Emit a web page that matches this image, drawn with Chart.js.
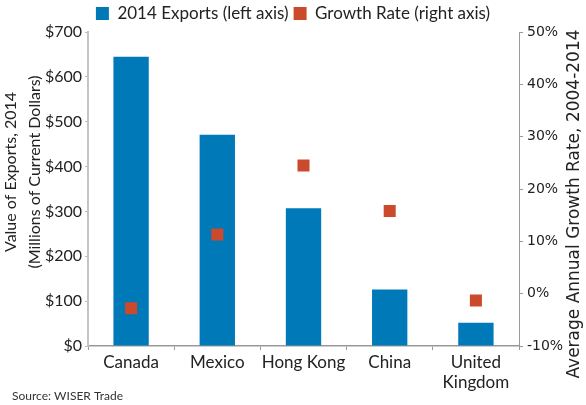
<!DOCTYPE html>
<html>
<head>
<meta charset="utf-8">
<script src="https://cdn.jsdelivr.net/npm/chart.js@4/dist/chart.umd.min.js"></script>
<style>
  html, body { margin: 0; padding: 0; background: #fff; }
  #wrap { width: 586px; height: 405px; position: relative; }
</style>
</head>
<body>
<div id="wrap"><canvas id="exportChart"></canvas></div>
<script>
const countries = ['Canada', 'Mexico', 'Hong Kong', 'China', ['United', 'Kingdom']];
const exports2014 = [645, 471, 307, 126, 52];
const growthRate = [-2.8, 11.3, 24.5, 15.8, -1.3];

const leftTitle = ['Value of Exports, 2014', '(Millions of Current Dollars)'];
const rightTitle = 'Average Annual Growth Rate, 2004-2014';
const sourceNote = 'Source: WISER Trade';

const blue = '#0079b9';
const red = '#cb4a2b';
const textColor = '#222';
const sans = 'Lato';

// axis titles and source line drawn by hand (right title reads bottom-to-top)
const extraText = {
  id: 'extraText',
  afterDraw: (chart) => {
    const { ctx } = chart;
    ctx.save();
    ctx.fillStyle = textColor;
    ctx.textAlign = 'center';
    ctx.textBaseline = 'middle';

    ctx.font = `16px ${sans}`;
    ctx.save();
    ctx.translate(11, 172);
    ctx.rotate(-Math.PI / 2);
    ctx.fillText(leftTitle[0], 0, 0);
    ctx.restore();
    ctx.save();
    ctx.translate(35, 172);
    ctx.rotate(-Math.PI / 2);
    ctx.fillText(leftTitle[1], 0, 0);
    ctx.restore();

    ctx.font = '17px "DejaVu Sans"';
    ctx.save();
    ctx.translate(575, 204);
    ctx.rotate(-Math.PI / 2);
    ctx.fillText(rightTitle, 0, 0);
    ctx.restore();

    ctx.font = `12px ${sans}`;
    ctx.fillStyle = '#333';
    ctx.textAlign = 'left';
    ctx.fillText(sourceNote, 12, 396);
    ctx.restore();
  }
};

new Chart(document.getElementById('exportChart'), {
  data: {
    labels: countries,
    datasets: [
      {
        type: 'bar',
        label: '2014 Exports (left axis)',
        data: exports2014,
        backgroundColor: blue,
        borderWidth: 0,
        yAxisID: 'y',
        categoryPercentage: 1,
        barPercentage: 0.41,
        order: 1
      },
      {
        type: 'line',
        label: 'Growth Rate (right axis)',
        data: growthRate,
        showLine: false,
        pointStyle: 'rect',
        pointRadius: 8.5,
        pointHoverRadius: 8.5,
        backgroundColor: red,
        borderColor: red,
        borderWidth: 0,
        yAxisID: 'y1',
        order: 0
      }
    ]
  },
  options: {
    responsive: true,
    maintainAspectRatio: false,
    animation: false,
    layout: { padding: 0 },
    plugins: {
      tooltip: { enabled: false },
      legend: {
        position: 'top',
        labels: {
          font: { family: sans, size: 17 },
          color: textColor,
          boxWidth: 13,
          boxHeight: 13,
          padding: 5,
          sort: (a, b) => a.datasetIndex - b.datasetIndex
        }
      }
    },
    scales: {
      x: {
        offset: true,
        grid: { display: true, drawOnChartArea: false, offset: true, tickLength: 4, color: '#999' },
        border: { color: '#999', width: 1.5 },
        ticks: { font: { family: sans, size: 17 }, color: textColor, padding: 2, maxRotation: 0, autoSkip: false },
        afterFit: (scale) => { scale.height = 59; }
      },
      y: {
        position: 'left',
        min: 0,
        max: 700,
        grid: { display: true, drawOnChartArea: false, tickLength: 3, color: '#bbb' },
        border: { color: '#c4c4c4', width: 2 },
        ticks: {
          stepSize: 100,
          font: { family: sans, size: 16 },
          color: textColor,
          padding: 3,
          callback: (v) => '$' + v
        },
        afterFit: (scale) => { scale.width = 88; }
      },
      y1: {
        position: 'right',
        min: -10,
        max: 50,
        grid: { display: true, drawOnChartArea: false, tickLength: 4, color: '#999' },
        border: { color: '#999', width: 1 },
        ticks: {
          stepSize: 10,
          font: { family: 'DejaVu Sans', size: 14 },
          color: textColor,
          padding: 4,
          callback: (v) => v + '%'
        },
        afterFit: (scale) => { scale.width = 67; }
      }
    }
  },
  plugins: [extraText]
});
</script>
</body>
</html>
